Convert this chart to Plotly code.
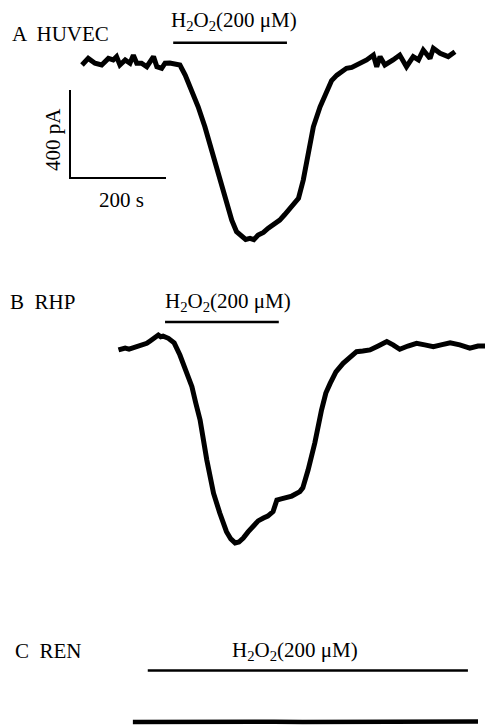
import plotly.graph_objects as go

# ---------------- data (time in s, current in pA) ----------------
# Panel A: HUVEC
huvec_t = [0, 13, 27, 41, 55, 65, 72, 79, 90, 100, 107, 114, 124, 135, 149, 156, 166, 173, 183, 194,
           204, 215, 229, 242, 256, 270, 284, 298, 312, 322, 333, 341, 350, 358, 367, 378, 388, 400, 412,
           422, 433, 443, 451, 461, 471, 482, 496, 510, 520, 531, 541, 551, 562, 572, 583, 593, 607, 614,
           621, 631, 648, 662, 676, 690, 701, 711, 725, 732, 746, 763, 777]
huvec_i = [-9, 21, -1, -9, 21, 14, 29, -9, 14, -1, 36, -1, -1, -17, 29, -17, -24, -1, 0, -2,
           -9, -55, -123, -199, -290, -395, -500, -608, -714, -767, -789, -802, -797, -803, -782, -770, -751, -735, -714,
           -690, -660, -640, -615, -532, -410, -290, -199, -123, -80, -55, -40, -24, -20, -9, 5, 14, 36, -17,
           29, -9, 14, 36, -17, 29, 14, 59, 21, 67, 44, 29, 51]

# Panel B: RHP
rhp_t = [76, 83, 90, 98, 106, 116, 128, 135, 142, 150, 159, 164, 169, 180, 192, 204, 217, 229, 237, 246,
         260, 274, 287, 301, 310, 319, 327, 336, 346, 357, 367, 378, 387, 398, 406, 415, 426, 437, 454, 460,
         471, 485, 499, 508, 517, 529, 544, 558, 572, 585, 600, 617, 635, 648, 662, 679, 697, 714, 732, 748,
         767, 787, 808, 825, 840]
rhp_i = [-18, -12, -9, -14, -9, -4, 5, 12, 23, 33, 50, 42, 45, 35, 14, -41, -109, -185, -259, -336,
         -518, -669, -759, -844, -877, -895, -891, -873, -845, -814, -795, -782, -773, -753, -700, -695, -691, -682, -662, -645,
         -564, -441, -291, -214, -170, -118, -79, -50, -26, -23, -18, 0, 20, 5, -15, 0, 12, 5, -3, 5,
         15, 5, -10, 0, 0]

# Panel C: REN
ren_t = [106, 160, 220, 280, 340, 400, 460, 520, 580, 640, 700, 760, 825]
ren_i = [0, 1, 0, 2, 0, 1, 0, 1, 2, 0, 1, 0, 2]

# H2O2 application periods (s) and marker level (pA)
app_start = [190, 173, 137]
app_end = [427, 410, 804]
app_level = [92, 109, 234]

panel_labels = ["A  HUVEC", "B  RHP", "C  REN"]
drug_label = "H<sub>2</sub>O<sub>2</sub>(200 \u03bcM)"

# scale bar (panel A)
scale_t0 = -25
scale_top = -123
scale_len_s = 200
scale_len_pA = 400
scale_labels = ["400 pA", "200 s"]

# ---------------- layout constants ----------------
W, H = 485, 726
PX_PER_S = 96 / 200.0
PX_PER_PA = 88 / 400.0
X0_PX = 82  # pixel of t = 0
BASE_PX = [63, 346, 722]  # pixel row of 0 pA in each panel
FONT = dict(family="Liberation Serif, Times New Roman, serif", size=21, color="black")

fig = go.Figure()
yaxes = ["y", "y2", "y3"]
traces_t = [huvec_t, rhp_t, ren_t]
traces_i = [huvec_i, rhp_i, ren_i]
widths = [5, 5, 4.5]

for k in range(3):
    fig.add_trace(go.Scatter(x=traces_t[k], y=traces_i[k], mode="lines", yaxis=yaxes[k],
                             line=dict(color="black", width=widths[k]), showlegend=False,
                             hoverinfo="skip"))
    fig.add_trace(go.Scatter(x=[app_start[k], app_end[k]], y=[app_level[k]] * 2, mode="lines",
                             yaxis=yaxes[k], line=dict(color="black", width=2.5),
                             showlegend=False, hoverinfo="skip"))

# scale bar
fig.add_trace(go.Scatter(x=[scale_t0, scale_t0, scale_t0 + scale_len_s],
                         y=[scale_top, scale_top - scale_len_pA, scale_top - scale_len_pA],
                         mode="lines", yaxis="y", line=dict(color="black", width=2),
                         showlegend=False, hoverinfo="skip"))

xr = [-X0_PX / PX_PER_S, (W - X0_PX) / PX_PER_S]
axis_common = dict(visible=False, showgrid=False, zeroline=False, fixedrange=True)
layout = dict(width=W, height=H, margin=dict(l=0, r=0, t=0, b=0),
              paper_bgcolor="white", plot_bgcolor="white",
              xaxis=dict(range=xr, domain=[0, 1], **axis_common))
for k in range(3):
    b = BASE_PX[k]
    yr = [(b - H) / PX_PER_PA, b / PX_PER_PA]
    key = "yaxis" if k == 0 else "yaxis%d" % (k + 1)
    d = dict(range=yr, domain=[0, 1], **axis_common)
    if k > 0:
        d["overlaying"] = "y"
    layout[key] = d
fig.update_layout(**layout)


def px(x, y):
    return x / W, 1 - y / H


annots = []
label_pos = [(10, 34), (8, 302), (13, 651)]
drug_pos = [(234, 21), (228, 302), (295, 651)]
for k in range(3):
    x, y = px(*label_pos[k])
    annots.append(dict(text=panel_labels[k], x=x, y=y, xref="paper", yref="paper",
                       xanchor="left", yanchor="middle", showarrow=False, font=FONT))
    x, y = px(*drug_pos[k])
    annots.append(dict(text=drug_label, x=x, y=y, xref="paper", yref="paper",
                       xanchor="center", yanchor="middle", showarrow=False, font=FONT))
x, y = px(53, 140)
annots.append(dict(text=scale_labels[0], x=x, y=y, xref="paper", yref="paper", textangle=-90,
                   xanchor="center", yanchor="middle", showarrow=False, font=FONT))
x, y = px(121, 200)
annots.append(dict(text=scale_labels[1], x=x, y=y, xref="paper", yref="paper",
                   xanchor="center", yanchor="middle", showarrow=False, font=FONT))
fig.update_layout(annotations=annots)

fig.write_html("out.html")
